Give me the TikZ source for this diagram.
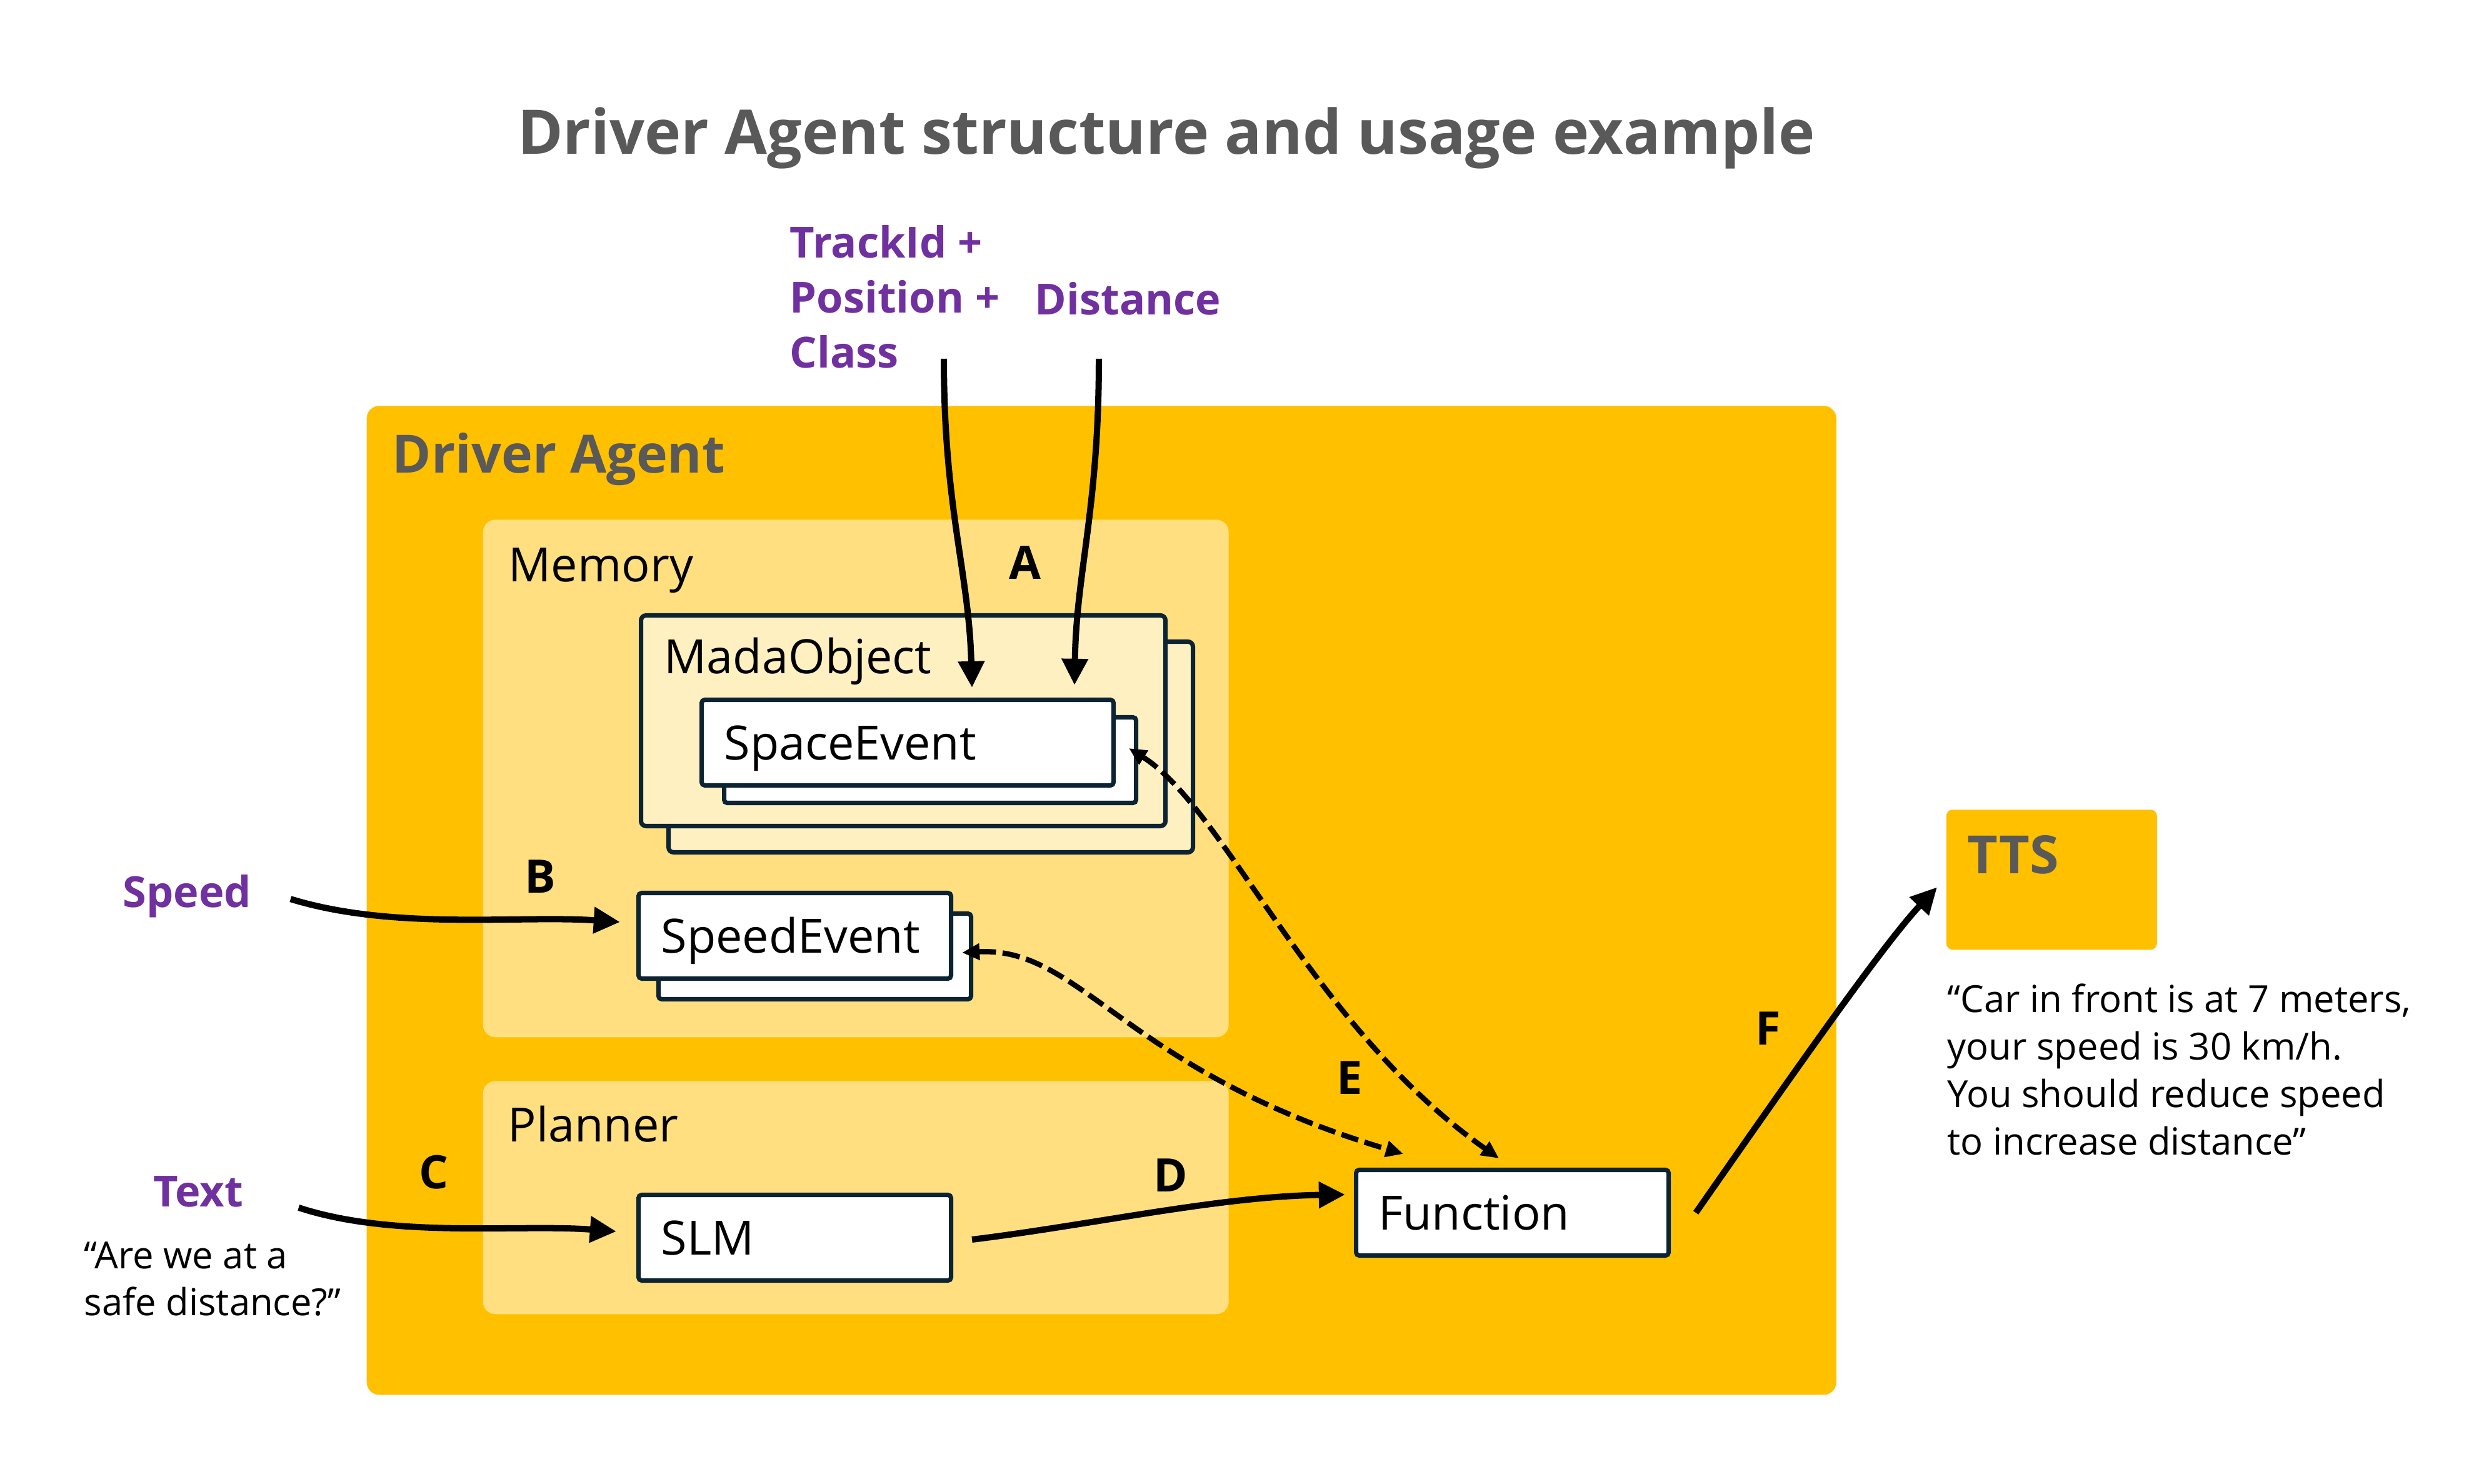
\documentclass[tikz,border=0pt]{standalone}
\usepackage{fontspec}
\setmainfont{Open Sans}
\usepackage{xcolor}
\usepackage{tikz}
\usetikzlibrary{calc}
\usetikzlibrary{arrows.meta}
\usetikzlibrary{positioning}

\definecolor{agentgold}{HTML}{FFC000}
\definecolor{memorygold}{HTML}{FFDF80}
\definecolor{objectcream}{HTML}{FFF0C2}
\definecolor{boxline}{HTML}{0B2333}
\definecolor{inputpurple}{HTML}{7030A0}
\definecolor{headgrey}{HTML}{595959}

\begin{document}
\begin{tikzpicture}
    \tikzstyle{every node}=[inner sep=0pt,font=\fontsize{21.5}{26}\selectfont]
    \tikzstyle{group}=[rounded corners=0.2cm,anchor=south west]
    \tikzstyle{heading}=[anchor=base west,text=headgrey,font=\fontsize{24}{29}\selectfont\bfseries]
    \tikzstyle{caption}=[anchor=base west]
    \tikzstyle{evbox}=[draw=boxline,line width=2pt,fill=white,rounded corners=0.05cm,anchor=north west,
                       minimum height=1.37cm,inner xsep=0.36cm,text width=4.28cm,align=left,
                       text height=15.4pt,text depth=0pt]
    \tikzstyle{wbox}=[evbox,text width=5.87cm]
    \tikzstyle{inlabel}=[text=inputpurple,font=\fontsize{19.5}{25}\selectfont\bfseries,align=left]
    \tikzstyle{flowlabel}=[anchor=base west,font=\fontsize{21}{25}\selectfont\bfseries]
    \tikzstyle{quote}=[anchor=west,align=left,font=\fontsize{17}{21.6}\selectfont]
    \tikzstyle{feed}=[line width=2.85pt,-{Triangle[length=12pt,width=11.5pt]}]
    \tikzstyle{access}=[line width=2.4pt,dash pattern=on 8pt off 3pt,{Triangle[length=8pt,width=7.2pt]}-{Triangle[length=8pt,width=7.2pt]}]

    \useasboundingbox (0,0) rectangle (39.5,23.74);

    \node[text=headgrey,font=\fontsize{28}{34}\selectfont\bfseries,anchor=base] (title) at (18.66,21.27) {Driver Agent structure and usage example};

    \node[group,fill=agentgold,minimum width=23.51cm,minimum height=15.82cm] (agent) at (5.86,1.42) {};
    \node[heading] (agenttext) at ([xshift=0.41cm,yshift=-1.08cm]agent.north west) {Driver Agent};
    \node[group,fill=memorygold,minimum width=11.93cm,minimum height=8.28cm] (memory) at (7.72,7.14) {};
    \node[caption] (memorytext) at ([xshift=0.41cm,yshift=-1.0cm]memory.north west) {Memory};
    \node[group,fill=memorygold,minimum width=11.93cm,minimum height=3.73cm] (planner) at (7.72,2.71) {};
    \node[caption] (plannertext) at ([xshift=0.40cm,yshift=-0.98cm]planner.north west) {Planner};

    \newcommand{\stacked}[5]{%
      \node[#2] (#1back) at ([shift={#4}]#3) {};
      \node[#2] (#1) at (#3) {#5};}

    \stacked{mada}{evbox,fill=objectcream,text width=7.67cm,minimum height=3.37cm,rounded corners=0.08cm}{10.22,13.93}{(0.44,-0.42)}{}
    \node[caption] (madatext) at ([xshift=0.40cm,yshift=-0.97cm]mada.north west) {MadaObject};
    \stacked{space}{wbox}{11.19,12.58}{(0.36,-0.28)}{SpaceEvent}
    \stacked{speed}{evbox}{10.18,9.49}{(0.32,-0.33)}{SpeedEvent}
    \node[evbox] (slm) at (10.18,4.66) {SLM};
    \node[evbox] (function) at (21.66,5.06) {Function};

    \node[group,fill=agentgold,minimum width=3.37cm,minimum height=2.24cm,rounded corners=0.1cm] (tts) at (31.13,8.54) {};
    \node[heading] (ttstext) at ([xshift=0.34cm,yshift=-1.03cm]tts.north west) {TTS};

    \node[inlabel,anchor=west] (trackin) at (12.63,18.99) {TrackId +\\Position +\\Class};
    \node[inlabel,anchor=base west] (distin) at (16.55,18.70) {Distance};
    \node[inlabel,anchor=base west] (speedin) at (1.96,9.22) {Speed};
    \node[inlabel,anchor=base west] (textin) at (2.45,4.43) {Text};
    \node[quote] (question) at (1.34,3.28) {“Are we at a\\safe distance?”};
    \node[quote] (answer) at (31.15,6.63) {“Car in front is at 7 meters,\\your speed is 30 km/h.\\You should reduce speed\\to increase distance”};

    \foreach \lbl/\x/\y in {A/16.14/14.47,B/8.39/9.45,C/6.70/4.72,D/18.45/4.67,E/21.38/6.23,F/28.08/7.02}
      \node[flowlabel] (flow\lbl) at (\x,\y) {\lbl};

    \coordinate (trackfrom) at (15.10,18.00);
    \coordinate (distfrom) at (17.58,18.00);
    \draw[feed] (trackfrom) .. controls (15.10,15.6) and (15.50,14.6) .. ([xshift=4.36cm,yshift=0.16cm]space.north west);
    \draw[feed] (distfrom) .. controls (17.58,15.6) and (17.22,14.6) .. ([xshift=6.0cm,yshift=0.2cm]space.north west);
    \draw[feed] ([xshift=0.62cm,yshift=-0.04cm]speedin.east) .. controls (6.3,8.85) and (8.3,9.1) .. ([xshift=-0.26cm,yshift=0.22cm]speed.west);
    \draw[feed] ([xshift=0.88cm,yshift=-0.25cm]textin.east) .. controls (6.3,3.92) and (8.3,4.16) .. ([xshift=-0.32cm,yshift=0.1cm]slm.west);
    \draw[feed] ([xshift=0.3cm,yshift=-0.03cm]slm.east) .. controls (17.5,4.15) and (19.5,4.6) .. ([xshift=-0.14cm,yshift=0.29cm]function.west);
    \draw[feed] ([xshift=0.4cm]function.east) .. controls (28.5,6.3) and (30.1,8.6) .. ([xshift=-0.14cm,yshift=-0.12cm]tts.west);
    \draw[access] ([xshift=0.21cm,yshift=-0.09cm]space.east) .. controls (19.6,10.8) and (21.0,7.3) .. ([xshift=2.32cm,yshift=0.15cm]function.north west);
    \draw[access] ([xshift=0.14cm,yshift=-0.27cm]speed.east) .. controls (17.3,8.6) and (18.0,6.6) .. ([xshift=0.79cm,yshift=0.22cm]function.north west);

\end{tikzpicture}
\end{document}
